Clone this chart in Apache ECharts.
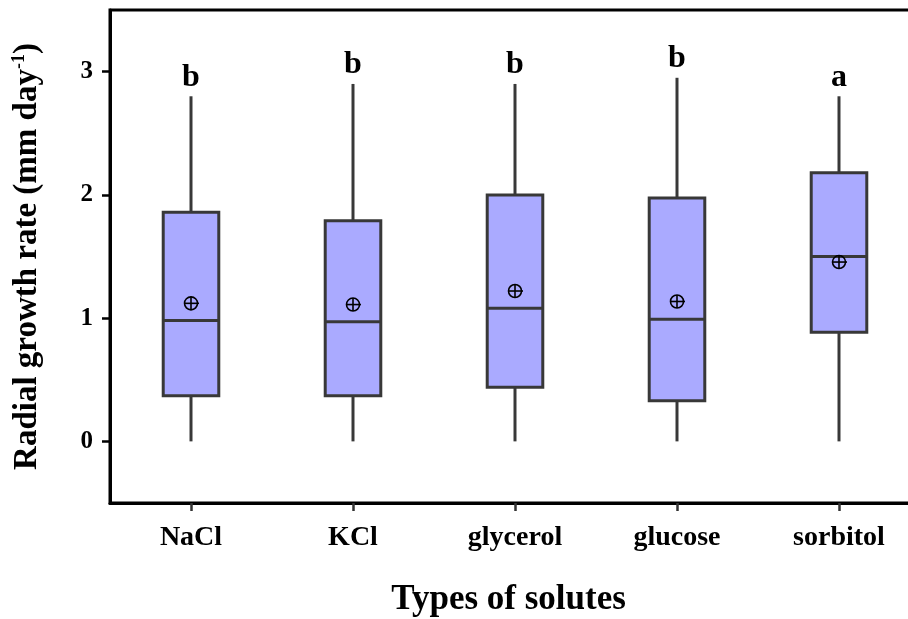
<!DOCTYPE html>
<html>
<head>
<meta charset="utf-8">
<script src="https://cdn.jsdelivr.net/npm/echarts@6/dist/echarts.min.js"></script>
<style>html,body{margin:0;padding:0;background:#fff}#c{width:908px;height:619px}</style>
</head>
<body>
<div id="c"></div>
<script>
var categories = ['NaCl', 'KCl', 'glycerol', 'glucose', 'sorbitol'];
var minVals = [0, 0, 0, 0, 0];
var q1Vals = [0.37, 0.37, 0.44, 0.33, 0.885];
var medianVals = [0.98, 0.97, 1.08, 0.99, 1.50];
var q3Vals = [1.86, 1.79, 2.00, 1.975, 2.18];
var maxVals = [2.80, 2.90, 2.90, 2.95, 2.80];
var meanVals = [1.12, 1.11, 1.22, 1.135, 1.455];
var letters = ['b', 'b', 'b', 'b', 'a'];
var yTicks = [0, 1, 2, 3];

var FONT = '"Liberation Serif", "Times New Roman", serif';
var data = categories.map(function (c, i) {
  return [i, minVals[i], q1Vals[i], medianVals[i], q3Vals[i], maxVals[i], meanVals[i]];
});

function renderItem(params, api) {
  var i = api.value(0);
  var pMin = api.coord([i, api.value(1)]);
  var pQ1 = api.coord([i, api.value(2)]);
  var pMed = api.coord([i, api.value(3)]);
  var pQ3 = api.coord([i, api.value(4)]);
  var pMax = api.coord([i, api.value(5)]);
  var pMean = api.coord([i, api.value(6)]);
  var w = api.size([1, 0])[0] * 0.343;
  var x = pMed[0];
  var stroke = '#383838';
  var r = 6.5;
  return {
    type: 'group',
    children: [
      { type: 'line', shape: { x1: x, y1: pMax[1], x2: x, y2: pQ3[1] }, style: { stroke: stroke, lineWidth: 3 } },
      { type: 'line', shape: { x1: x, y1: pQ1[1], x2: x, y2: pMin[1] }, style: { stroke: stroke, lineWidth: 3 } },
      { type: 'rect', shape: { x: x - w / 2, y: pQ3[1], width: w, height: pQ1[1] - pQ3[1] }, style: { fill: '#aaaaff', stroke: stroke, lineWidth: 3 } },
      { type: 'line', shape: { x1: x - w / 2, y1: pMed[1], x2: x + w / 2, y2: pMed[1] }, style: { stroke: stroke, lineWidth: 3 } },
      { type: 'circle', shape: { cx: x, cy: pMean[1], r: r }, style: { fill: 'none', stroke: '#000', lineWidth: 1.6 } },
      { type: 'line', shape: { x1: x - r, y1: pMean[1], x2: x + r + 1.5, y2: pMean[1] }, style: { stroke: '#000', lineWidth: 1.6 } },
      { type: 'line', shape: { x1: x, y1: pMean[1] - r, x2: x, y2: pMean[1] + r }, style: { stroke: '#000', lineWidth: 1.6 } },
      { type: 'text', x: x, y: pMax[1] - 3, style: { text: letters[i], fill: '#000', font: 'bold 32px ' + FONT, align: 'center', verticalAlign: 'bottom' } }
    ]
  };
}

var chart = echarts.init(document.getElementById('c'), null, { renderer: 'canvas' });
chart.setOption({
  animation: false,
  grid: { left: 110, width: 810, top: 10, bottom: 116, outerBoundsMode: 'none', containLabel: false, show: true, borderColor: '#000', borderWidth: 3, backgroundColor: 'transparent' },
  xAxis: {
    type: 'category',
    data: categories,
    name: 'Types of solutes',
    nameLocation: 'middle',
    nameGap: 79,
    nameTextStyle: { fontFamily: FONT, fontWeight: 'bold', fontSize: 35, color: '#000', padding: [0, 13, 0, 0] },
    axisLine: { show: true, onZero: false, lineStyle: { color: '#000', width: 3 } },
    axisTick: { show: true, alignWithLabel: true, length: 8, lineStyle: { color: '#333', width: 2.5 } },
    axisLabel: { fontFamily: FONT, fontWeight: 'bold', fontSize: 28, color: '#000', margin: 21 },
    splitLine: { show: false }
  },
  yAxis: {
    type: 'value',
    min: -0.5,
    max: 3.5,
    name: 'Radial growth rate (mm day{sup|-1})',
    nameLocation: 'middle',
    nameGap: 66,
    nameTextStyle: { fontFamily: FONT, fontWeight: 'bold', fontSize: 33, color: '#000',
      rich: { sup: { fontFamily: FONT, fontWeight: 'bold', fontSize: 18, color: '#000', verticalAlign: 'top', padding: [0, 0, 16, 0] } } },
    axisLine: { show: true, onZero: false, lineStyle: { color: '#000', width: 3 } },
    axisTick: { show: true, length: 8, customValues: yTicks, lineStyle: { color: '#000', width: 2.5 } },
    axisLabel: { customValues: yTicks, fontFamily: FONT, fontWeight: 'bold', fontSize: 25, color: '#000', margin: 17 },
    splitLine: { show: false }
  },
  series: [{
    type: 'custom',
    renderItem: renderItem,
    data: data,
    encode: { x: 0, y: [1, 2, 3, 4, 5, 6] },
    clip: false
  }]
});
</script>
</body>
</html>
